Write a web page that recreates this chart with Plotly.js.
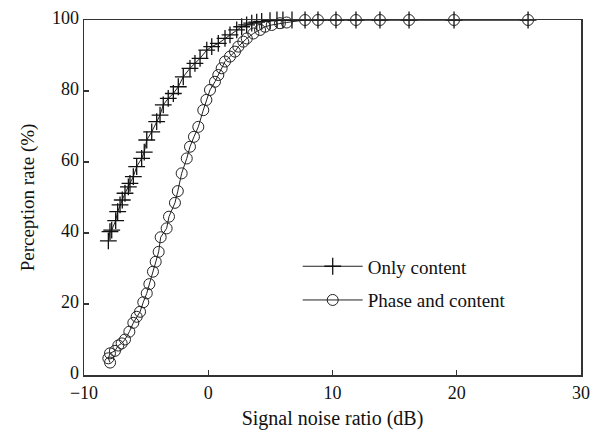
<!DOCTYPE html>
<html>
<head>
<meta charset="utf-8">
<script src="https://cdn.plot.ly/plotly-3.0.1.min.js"></script>
<style>html,body{margin:0;padding:0;background:#fff;}#chart{width:594px;height:432px;}</style>
</head>
<body>
<div id="chart"></div>
<script>
// Only content (+ markers)
const snrOnly = [-8.04, -7.91, -7.77, -7.45, -7.29, -7.10, -6.92, -6.70, -6.43, -6.30, -6.03, -5.76, -5.36, -5.15, -4.95, -4.55, -4.15, -3.88, -3.62, -3.22, -2.81, -2.41, -2.01, -1.47, -1.07, -0.66, -0.12, 0.28, 0.81, 1.35, 1.75, 2.29, 2.69, 3.09, 3.50, 3.90, 4.30, 4.97, 5.53, 6.01, 6.74, 7.79, 8.83, 10.28, 11.89, 13.82, 16.16, 19.78, 25.74];
const rateOnly = [37.8, 40.4, 40.8, 43.5, 46.0, 47.9, 49.3, 51.2, 53.0, 54.0, 55.9, 58.7, 61.0, 62.8, 66.2, 68.5, 71.4, 73.2, 76.1, 77.9, 79.3, 81.2, 84.0, 86.4, 87.8, 89.2, 91.5, 92.5, 93.4, 94.8, 95.8, 97.2, 98.1, 98.6, 99.1, 99.4, 99.6, 99.8, 100, 100, 100, 100, 100, 100, 100, 100, 100, 100, 100];

// Phase and content (o markers)
const snrPhase = [-7.90, -8.04, -7.91, -7.51, -7.24, -6.97, -6.70, -6.35, -6.03, -5.76, -5.49, -5.23, -4.95, -4.74, -4.45, -4.23, -3.99, -3.83, -3.35, -3.16, -2.68, -2.45, -2.14, -1.73, -1.47, -1.15, -0.80, -0.40, -0.15, 0.14, 0.54, 0.81, 1.08, 1.35, 1.75, 2.15, 2.42, 2.82, 3.10, 3.63, 4.17, 4.57, 5.11, 5.77, 6.31, 7.79, 8.83, 10.28, 11.89, 13.82, 16.16, 19.78, 25.74];
const ratePhase = [3.5, 4.7, 6.1, 6.8, 8.3, 8.9, 10.0, 12.2, 14.7, 16.4, 17.8, 20.5, 23.0, 25.6, 29.1, 31.9, 34.7, 38.8, 41.3, 44.6, 48.5, 51.8, 56.8, 61.0, 64.3, 67.1, 69.9, 74.6, 77.5, 80.3, 82.6, 84.5, 86.4, 88.3, 89.7, 91.1, 92.5, 93.9, 94.8, 96.2, 97.2, 98.1, 98.6, 99.1, 99.3, 100, 100, 100, 100, 100, 100, 100, 100];

const seriesNames = ['Only content', 'Phase and content'];
const xTicks = [-10, 0, 10, 20, 30];
const yTicks = [0, 20, 40, 60, 80, 100];

const serif = 'Liberation Serif, Times New Roman, serif';

const traces = [
  {
    x: snrOnly, y: rateOnly, name: seriesNames[0], type: 'scatter', mode: 'lines+markers',
    legendgroup: 'a',
    line: {color: '#222', width: 1},
    marker: {symbol: 'cross-thin-open', size: 12, color: '#111', line: {color: '#111', width: 1.3}},
    cliponaxis: false
  },
  {
    x: snrPhase, y: ratePhase, name: seriesNames[1], type: 'scatter', mode: 'lines+markers',
    legendgroup: 'b',
    line: {color: '#222', width: 1},
    marker: {symbol: 'circle-open', size: 11, color: '#222', line: {color: '#222', width: 1}},
    cliponaxis: false
  }
];

const layout = {
  width: 594, height: 432,
  margin: {l: 84, r: 13, t: 20, b: 57},
  paper_bgcolor: '#fff', plot_bgcolor: '#fff',
  font: {family: serif, color: '#111', size: 18},
  showlegend: true,
  legend: {
    x: 0.43, y: 0.258, xanchor: 'left', yanchor: 'middle',
    bgcolor: 'rgba(0,0,0,0)', borderwidth: 0,
    font: {family: serif, size: 19, color: '#111'},
    itemwidth: 60, tracegroupgap: 6, traceorder: 'grouped'
  },
  xaxis: {
    range: [-10, 30], tickvals: xTicks, ticktext: xTicks.map(v => v < 0 ? '\u2212' + Math.abs(v) : String(v)),
    ticks: 'inside', ticklen: 5, tickwidth: 1.2, tickcolor: '#333',
    showline: true, mirror: true, linecolor: '#333', linewidth: 1.5,
    showgrid: false, zeroline: false, ticklabelstandoff: 1,
    tickfont: {family: serif, size: 18, color: '#111'},
    title: {text: 'Signal noise ratio (dB)', font: {family: serif, size: 20, color: '#111'}, standoff: 9}
  },
  yaxis: {
    range: [0, 100], tickvals: yTicks,
    ticks: 'inside', ticklen: 5, tickwidth: 1.2, tickcolor: '#333',
    showline: true, mirror: true, linecolor: '#333', linewidth: 1.5,
    showgrid: false, zeroline: false, ticklabelshift: -2,
    tickfont: {family: serif, size: 18, color: '#111'},
    title: {text: 'Perception rate (%)', font: {family: serif, size: 19, color: '#111'}, standoff: 12}
  }
};

Plotly.newPlot('chart', traces, layout, {staticPlot: true, displayModeBar: false});
</script>
</body>
</html>
